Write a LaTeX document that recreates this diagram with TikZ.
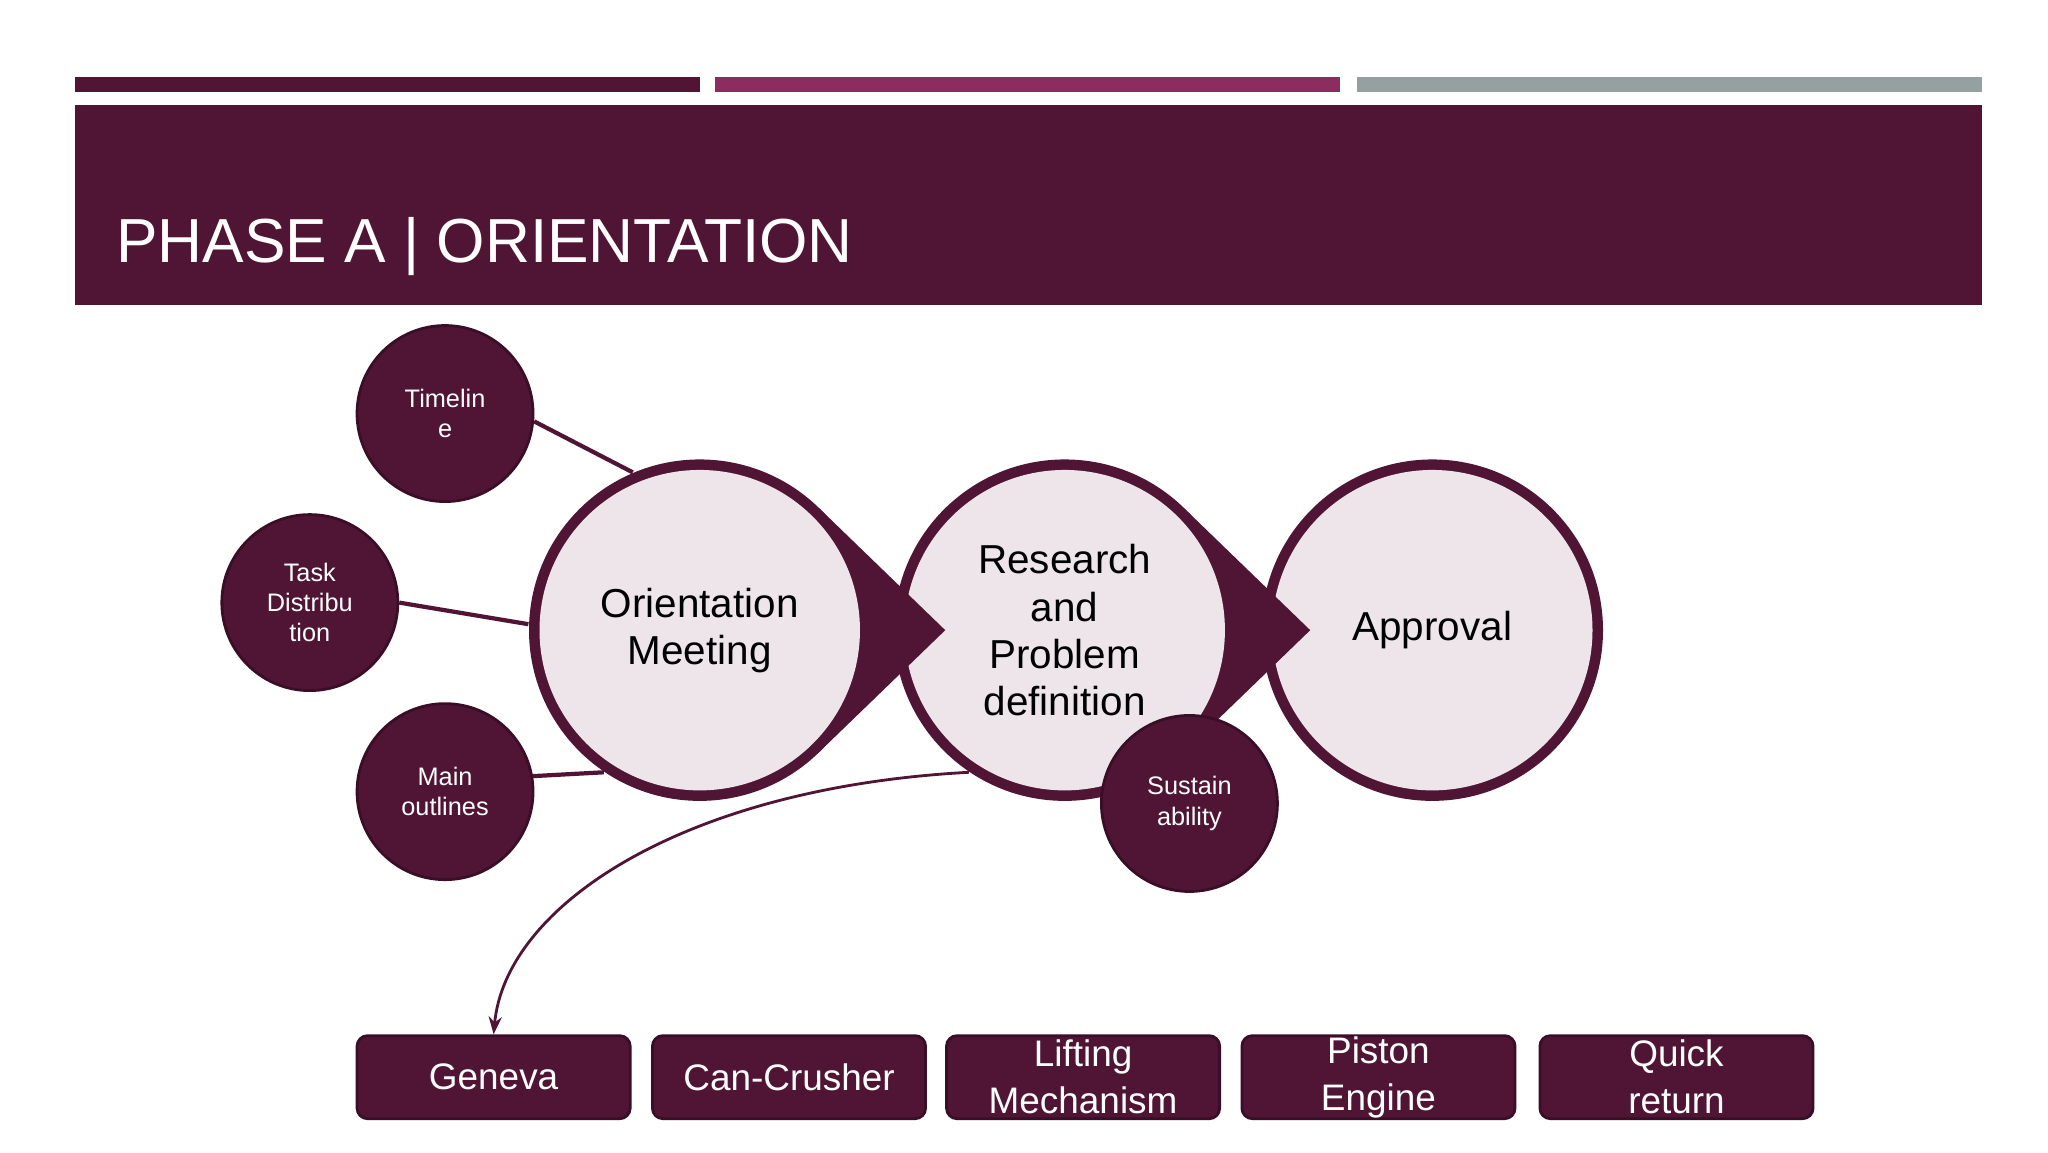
\documentclass[tikz,border=0pt]{standalone}
\usepackage{fontspec}
\setmainfont{Liberation Sans}
\usetikzlibrary{arrows.meta}
\definecolor{dk}{HTML}{501535}
\definecolor{dkb}{HTML}{3A0E26}
\definecolor{lt}{HTML}{EDE5EA}
\definecolor{mg}{HTML}{8B2D5E}
\definecolor{gy}{HTML}{95A0A0}
\begin{document}
\begin{tikzpicture}[x=0.013128cm,y=-0.013128cm,
  big/.style={circle,fill=dk,minimum size=3.413cm,inner sep=0},
  inner/.style={circle,fill=lt,minimum size=3.203cm,inner sep=0,align=center,font=\fontsize{11.5}{13.4}\selectfont,text=black},
  small/.style={circle,fill=dk,draw=dkb,line width=0.8pt,minimum size=1.759cm,inner sep=0,align=center,text=white,font=\fontsize{7.2}{8.6}\selectfont},
  box/.style={rectangle,rounded corners=3pt,fill=dk,draw=dkb,line width=0.8pt,minimum width=2.73cm,minimum height=0.83cm,inner sep=0,align=center,text=white,font=\fontsize{10.5}{13.4}\selectfont},
  conn/.style={draw=dk,line width=1.2pt}]
\useasboundingbox (0,0) rectangle (1560,877.5);
\fill[white] (0,0) rectangle (1560,877.5);
\fill[dk] (57,59) rectangle (533,70);
\fill[mg] (545,59) rectangle (1021,70);
\fill[gy] (1034,59) rectangle (1510,70);
\fill[dk] (57,80) rectangle (1510,232);
\node[anchor=west,text=white,font=\fontsize{17.7}{20}\selectfont,inner sep=0] (title) at (88,188) {PHASE A | ORIENTATION};
% Approval
\node[big] (apo) at (1091,480) {};
\node[inner] (ap) at (1091,480) {Approval};
% Research
\fill[dk] (811+90.3,480-93.5) -- (811+187,480) -- (811+90.3,480+93.5) -- cycle;
\node[big] (rpo) at (811,480) {};
\node[inner] (rp) at (811,480) {Research\\and\\Problem\\definition};
% Orientation
\fill[dk] (533+90.3,480-93.5) -- (533+187,480) -- (533+90.3,480+93.5) -- cycle;
\node[big] (omo) at (533,480) {};
\node[inner] (om) at (533,480) {Orientation\\Meeting};
% small circles
\node[small] (tl) at (339,315) {Timelin\\e};
\node[small] (tk) at (236,459) {Task\\Distribu\\tion};
\node[small] (mo) at (339,603) {Main\\outlines};
\draw[conn] (tl.-5) -- (omo.113);
\draw[conn] (tk.east) -- (omo.178);
\draw[conn] (mo.10) -- (omo.236);
\node[small] (su) at (906,612) {Sustain\\ability};
% boxes
\node[box] (ge) at (376,820.5) {Geneva};
\node[box] (cc) at (601,820.5) {Can-Crusher};
\node[box] (lm) at (825,820.5) {Lifting\\Mechanism};
\node[box] (pe) at (1050,820.5) {Piston\\Engine};
\node[box] (qr) at (1277,820.5) {Quick\\return};
\draw[draw=dk,line width=0.8pt,-{Stealth[length=5pt]}] (rpo.236) .. controls (520,600) and (385,690) .. (ge.north);
\end{tikzpicture}
\end{document}
